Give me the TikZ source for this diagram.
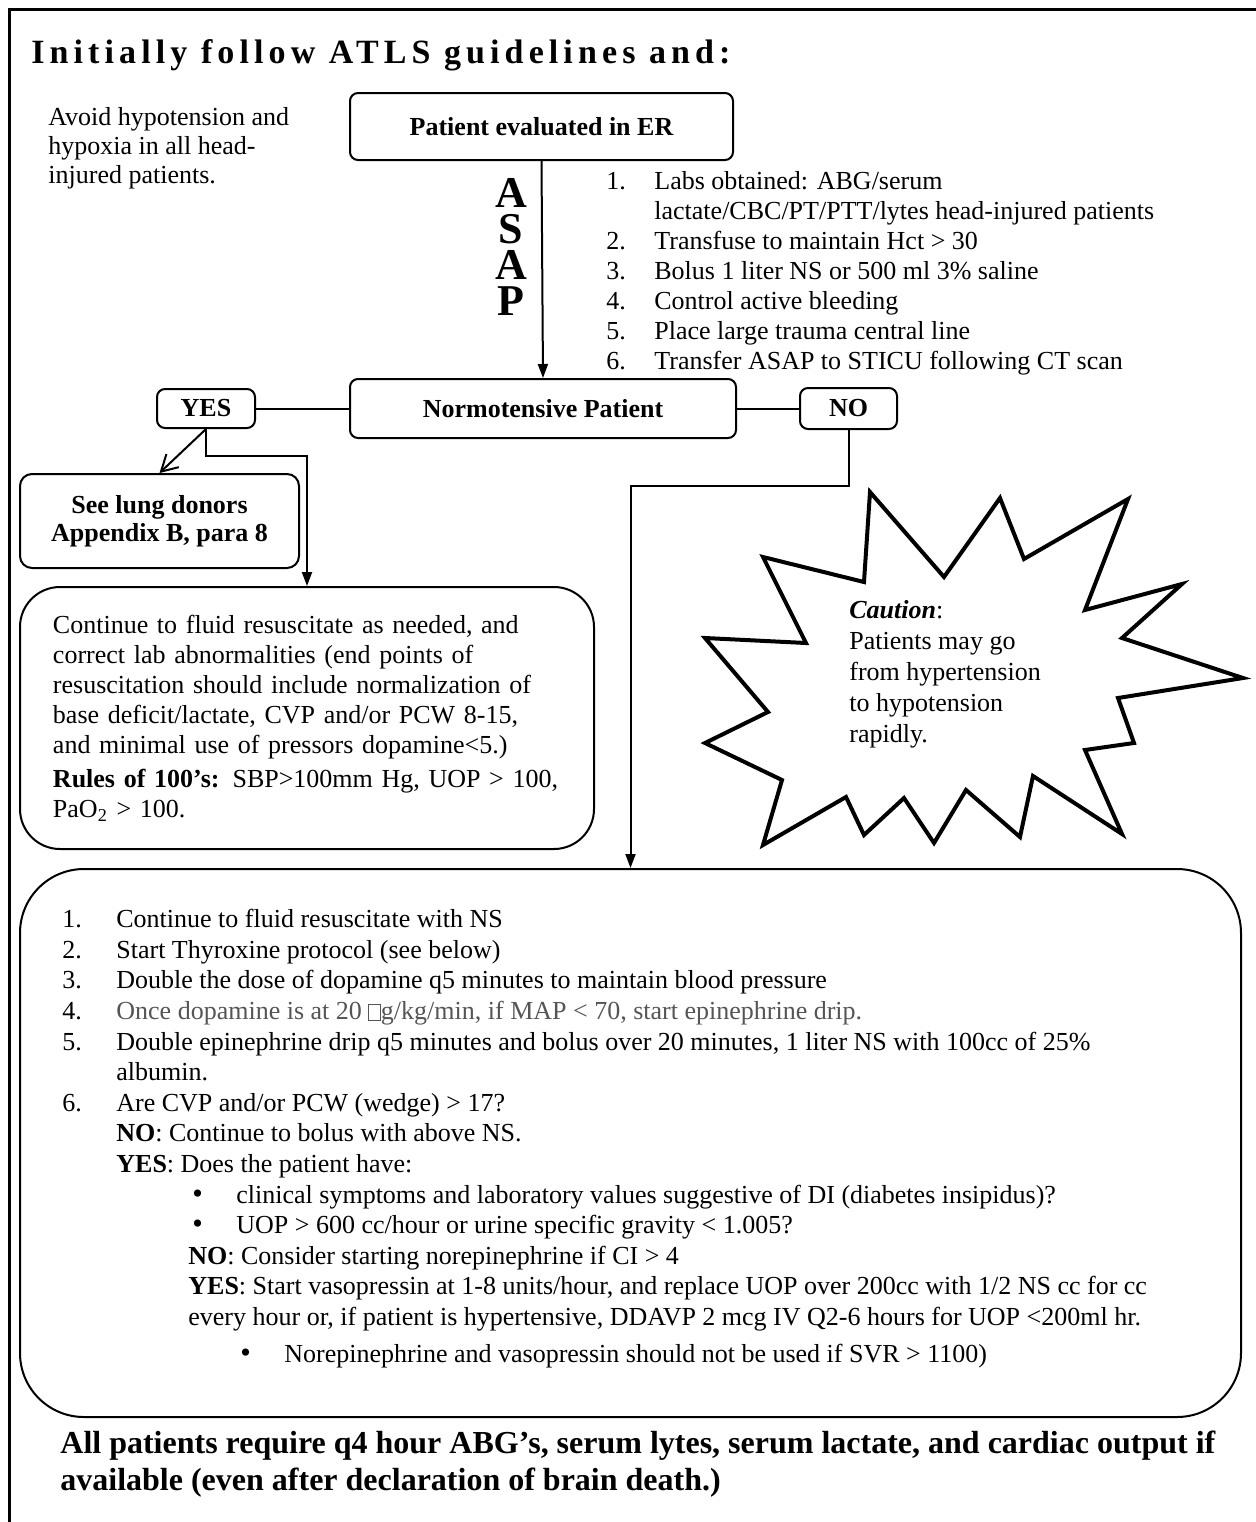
\documentclass[tikz,border=0pt]{standalone}
\usepackage{fontspec}
\setmainfont{Liberation Serif}
\newfontfamily\spacedfont[LetterSpace=15]{Liberation Serif}
\usepackage{tikz}
\usetikzlibrary{arrows.meta,positioning,calc}
\definecolor{FadedText}{HTML}{555555}
\newcommand{\numitem}[3][27pt]{\makebox[#1][l]{#2}#3}
\newcommand{\bulitem}[1]{\hspace*{#1}\makebox[22pt][l]{\fontsize{15}{15}\selectfont\textbullet}}
\newcommand{\blankglyph}{{\setlength\fboxsep{0pt}\setlength\fboxrule{0.4pt}\fbox{\rule{0pt}{7.5pt}\hspace{5.5pt}}}}

\begin{document}
\begin{tikzpicture}[x=0.5pt,y=-0.5pt,
    every node/.style={font=\fontsize{13}{15}\selectfont},
    flowbox/.style={draw,line width=1pt,rounded corners=4pt,inner sep=0pt,
      font=\fontsize{13}{15}\selectfont\bfseries},
    plaintext/.style={anchor=north west,align=left,inner sep=0pt},
    link/.style={line width=1pt},
    arr/.style={-{Triangle[length=7pt,width=5pt]},line width=1pt},
    openarr/.style={-{Straight Barb[length=8pt,width=9pt]},line width=1pt}]
  \useasboundingbox (0,0) rectangle (1256,1522);
  \draw[line width=1.5pt](9,1522)--(9,9)--(1256,9);
  \node[anchor=base west,inner sep=0pt,font=\spacedfont\bfseries\fontsize{17}{20}\selectfont] (title) at (31,63) {Initially follow ATLS guidelines and:};
  \node[plaintext,font=\fontsize{13}{14.5}\selectfont] (avoid) at (48,107) {Avoid hypotension and\\hypoxia in all head-\\injured patients.};
  \node[flowbox,minimum width=191.5pt,minimum height=33.5pt] (er) at (541.5,126.5) {Patient evaluated in ER};
  \node[font=\bfseries\fontsize{22}{18}\selectfont,align=center,inner sep=0pt] (asap) at (511,247) {A\\S\\A\\P};
  \node[plaintext] (labs) at (606,171) {\numitem[24pt]{1.}{Labs obtained: ABG/serum}\\
    \hspace*{24pt}lactate/CBC/PT/PTT/lytes head-injured patients\\
    \numitem[24pt]{2.}{Transfuse to maintain Hct > 30}\\
    \numitem[24pt]{3.}{Bolus 1 liter NS or 500 ml 3\% saline}\\
    \numitem[24pt]{4.}{Control active bleeding}\\
    \numitem[24pt]{5.}{Place large trauma central line}\\
    \numitem[24pt]{6.}{Transfer ASAP to STICU following CT scan}};
  \node[flowbox,minimum width=193pt,minimum height=29.5pt] (normo) at (543,408.5) {Normotensive Patient};
  \node[flowbox,minimum width=49pt,minimum height=19.5pt] (yes) at (206,408.5) {YES};
  \node[flowbox,minimum width=48.5pt,minimum height=20.5pt] (no) at (848.5,408.5) {NO};
  \node[flowbox,rounded corners=6pt,minimum width=139.5pt,minimum height=47pt,align=center,
    font=\fontsize{13}{14}\selectfont\bfseries] (lung) at (159.5,521) {See lung donors\\Appendix B, para 8};
  \node[draw,line width=1pt,rounded corners=20pt,minimum width=287pt,minimum height=131pt,
    inner xsep=16.5pt,text width=254pt,align=left] (cont) at (307,718) {Continue to fluid resuscitate as needed, and\\
    correct lab abnormalities (end points of\\
    resuscitation should include normalization of\\
    base deficit/lactate, CVP and/or PCW 8-15,\\
    and minimal use of pressors dopamine<5.)\\[2pt]
    \textbf{Rules of 100’s:} SBP>100mm Hg, UOP > 100,\\
    PaO\textsubscript{2} > 100.};
  \draw[line width=2pt,line join=miter] (870,492)--(944,577)--(1000,498)--(1024,559)--(1128,499)
    --(1085,610)--(1182,584)--(1122,638)--(1243,678)--(1118,698)--(1134,743)--(1085,750)
    --(1122,834)--(1033,776)--(1020,837)--(966,790)--(934,843)--(904,798)--(864,835)
    --(846,797)--(763,845)--(782,780)--(705,743)--(768,712)--(705,638)--(806,643)
    --(763,557)--(864,582)--cycle;
  \node[plaintext,font=\fontsize{13}{15.5}\selectfont] (caution) at (849,600) {\textbf{\textit{Caution}}:\\Patients may go\\from hypertension\\to hypotension\\rapidly.};
  \node[draw,line width=1pt,rounded corners=32pt,minimum width=610.5pt,minimum height=274pt] (plan) at (630.5,1143) {};
  \node[plaintext,font=\fontsize{13}{15.3}\selectfont] (plantext) at (62,909) {%
    \numitem{1.}{Continue to fluid resuscitate with NS}\\
    \numitem{2.}{Start Thyroxine protocol (see below)}\\
    \numitem{3.}{Double the dose of dopamine q5 minutes to maintain blood pressure}\\
    \numitem{4.}{{\color{FadedText}Once dopamine is at 20 \blankglyph g/kg/min, if MAP < 70, start epinephrine drip.}}\\
    \numitem{5.}{Double epinephrine drip q5 minutes and bolus over 20 minutes, 1 liter NS with 100cc of 25\%}\\
    \hspace*{27pt}albumin.\\
    \numitem{6.}{Are CVP and/or PCW (wedge) > 17?}\\
    \hspace*{27pt}\textbf{NO}: Continue to bolus with above NS.\\
    \hspace*{27pt}\textbf{YES}: Does the patient have:\\
    \bulitem{65pt}clinical symptoms and laboratory values suggestive of DI (diabetes insipidus)?\\
    \bulitem{65pt}UOP > 600 cc/hour or urine specific gravity < 1.005?\\
    \hspace*{63pt}\textbf{NO}: Consider starting norepinephrine if CI > 4\\
    \hspace*{63pt}\textbf{YES}: Start vasopressin at 1-8 units/hour, and replace UOP over 200cc with 1/2 NS cc for cc\\
    \hspace*{63pt}every hour or, if patient is hypertensive, DDAVP 2 mcg IV Q2-6 hours for UOP <200ml hr.\\[3pt]
    \bulitem{89pt}Norepinephrine and vasopressin should not be used if SVR > 1100)};
  \node[plaintext,font=\bfseries\fontsize{16}{18.5}\selectfont] (note) at (60,1431) {All patients require q4 hour ABG’s, serum lytes, serum lactate, and cardiac output if\\available (even after declaration of brain death.)};
  \draw[arr] (er.south) -- (normo.north);
  \draw[link] (yes.east) -- (normo.west);
  \draw[link] (normo.east) -- (no.west);
  \draw[openarr] (yes.south) -- (lung.north);
  \draw[arr] (yes.south) -- ++(0,27) -| (cont.north);
  \draw[arr] (no.south) -- ++(0,56) -| (plan.north);
\end{tikzpicture}
\end{document}
